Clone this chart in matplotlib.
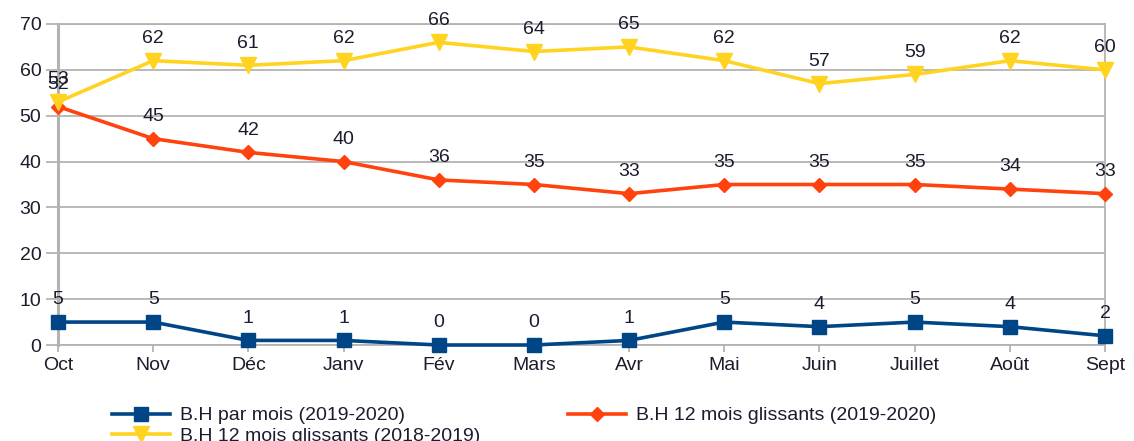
import matplotlib.pyplot as plt

months = ['Oct', 'Nov', 'Déc', 'Janv', 'Fév', 'Mars', 'Avr', 'Mai', 'Juin',
          'Juillet', 'Août', 'Sept']
bh_mois = [5, 5, 1, 1, 0, 0, 1, 5, 4, 5, 4, 2]
bh_glissants_1920 = [52, 45, 42, 40, 36, 35, 33, 35, 35, 35, 34, 33]
bh_glissants_1819 = [53, 62, 61, 62, 66, 64, 65, 62, 57, 59, 62, 60]

plt.rcParams['font.family'] = ['Liberation Sans', 'DejaVu Sans']
fs = 14
text_color = '#1c1c2e'
grid_color = '#b3b3b3'

fig = plt.figure(figsize=(11.34, 4.41), dpi=100)
ax = fig.add_axes([58 / 1134, 1 - 345 / 441, (1105 - 58) / 1134, (345 - 24) / 441])

x = list(range(len(months)))
series = [
    (bh_mois, '#004586', 's', 10, 'B.H par mois (2019-2020)'),
    (bh_glissants_1920, '#ff420e', 'D', 7, 'B.H 12 mois glissants (2019-2020)'),
    (bh_glissants_1819, '#ffd320', 'v', 11, 'B.H 12 mois glissants (2018-2019)'),
]
handles = []
for vals, color, marker, ms, label in series:
    h, = ax.plot(x, vals, color=color, marker=marker, markersize=ms, lw=2.6,
                 label=label, clip_on=False, zorder=3)
    handles.append(h)
    for xi, v in zip(x, vals):
        ax.annotate(str(v), (xi, v), xytext=(0, 16), textcoords='offset points',
                    ha='center', va='center', color=text_color, fontsize=fs)

ax.set_xlim(0, len(months) - 1)
ax.set_ylim(0, 70)
ax.set_yticks(range(0, 71, 10))
ax.set_xticks(x)
ax.set_xticklabels(months)
ax.yaxis.grid(True, color=grid_color, lw=1.3)
ax.set_axisbelow(True)
for side, sp in ax.spines.items():
    sp.set_color(grid_color)
    sp.set_linewidth(1.3)
ax.spines['left'].set_linewidth(2.2)
ax.tick_params(axis='y', length=9, width=1.3, color=grid_color, pad=3, labelsize=fs)
ax.tick_params(axis='x', length=5, width=1.3, color=grid_color, pad=4, labelsize=fs)
for lbl in ax.get_yticklabels() + ax.get_xticklabels():
    lbl.set_color(text_color)

# ordre: colonne 1 = bleu, jaune ; colonne 2 = orange
fig.legend([handles[0], handles[2], handles[1]],
           [handles[0].get_label(), handles[2].get_label(), handles[1].get_label()],
           loc='upper left', bbox_to_anchor=(102 / 1134, 1 - 397 / 441),
           ncol=2, frameon=False, borderpad=0, handlelength=3.0,
           handletextpad=0.5, columnspacing=4.5, labelspacing=0.15,
           fontsize=fs, labelcolor=text_color)

fig.savefig('out.png', dpi=100)
